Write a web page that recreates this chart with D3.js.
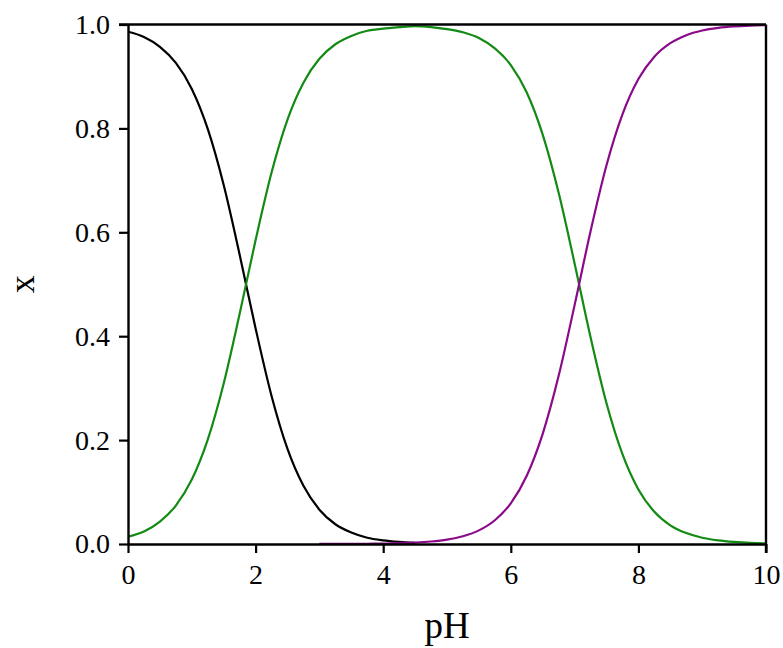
<!DOCTYPE html>
<html>
<head>
<meta charset="utf-8">
<script src="https://cdn.jsdelivr.net/npm/d3@7"></script>
<style>
  html, body { margin: 0; padding: 0; background: #ffffff; }
  svg { display: block; }
</style>
</head>
<body>
<svg id="chart" width="783" height="648"></svg>
<script>
// Species fractions vs pH for a diprotic acid H2A / HA- / A2-
const phH2A = [0, 0.25, 0.5, 0.75, 1, 1.25, 1.5, 1.75, 2, 2.25, 2.5, 2.75, 3, 3.25, 3.5, 3.75, 4, 4.25, 4.5];
const xH2A  = [0.986, 0.976, 0.957, 0.926, 0.876, 0.799, 0.691, 0.557, 0.415, 0.285, 0.183, 0.112, 0.066, 0.038, 0.022, 0.012, 0.007, 0.004, 0.002];

const phHA = [0, 0.25, 0.5, 0.75, 1, 1.25, 1.5, 1.75, 2, 2.25, 2.5, 2.75, 3, 3.25, 3.5, 3.75, 4, 4.25, 4.5, 4.75,
              5, 5.25, 5.5, 5.75, 6, 6.25, 6.5, 6.75, 7, 7.25, 7.5, 7.75, 8, 8.25, 8.5, 8.75, 9, 9.25, 9.5, 9.75, 10];
const xHA  = [0.014, 0.024, 0.043, 0.074, 0.124, 0.201, 0.309, 0.443, 0.585, 0.715, 0.817, 0.888, 0.934, 0.962, 0.978, 0.988, 0.992, 0.995, 0.997, 0.995,
              0.991, 0.985, 0.974, 0.954, 0.922, 0.869, 0.788, 0.676, 0.540, 0.398, 0.271, 0.173, 0.105, 0.062, 0.036, 0.021, 0.012, 0.007, 0.004, 0.002, 0.001];

const phA = [3, 3.25, 3.5, 3.75, 4, 4.25, 4.5, 4.75, 5, 5.25, 5.5, 5.75, 6, 6.25, 6.5, 6.75, 7, 7.25, 7.5, 7.75,
             8, 8.25, 8.5, 8.75, 9, 9.25, 9.5, 9.75, 10];
const xA  = [0.0001, 0.0002, 0.0003, 0.0005, 0.0009, 0.0015, 0.0027, 0.0048, 0.0084, 0.0149, 0.0262, 0.0457, 0.0784, 0.1315, 0.2121, 0.3237, 0.4598, 0.602, 0.729, 0.827,
             0.895, 0.938, 0.964, 0.9795, 0.9884, 0.9934, 0.9963, 0.9979, 0.9988];

const xTicks = [0, 2, 4, 6, 8, 10];
const yTicks = [0, 0.2, 0.4, 0.6, 0.8, 1.0];

const series = [
  { ph: phH2A, x: xH2A, color: "#000000" },
  { ph: phHA,  x: xHA,  color: "#138a13" },
  { ph: phA,   x: xA,   color: "#8a0a8a" }
];

const FONT = "Liberation Serif";
const margin = { left: 128, top: 24.5, right: 17, bottom: 104 };
const W = 783, H = 648;
const svg = d3.select("#chart");

const x = d3.scaleLinear().domain([0, 10]).range([margin.left, W - margin.right]);
const y = d3.scaleLinear().domain([0, 1]).range([H - margin.bottom, margin.top]);

const line = d3.line()
  .x(d => x(d[0]))
  .y(d => y(d[1]))
  .curve(d3.curveMonotoneX);

const plot = svg.append("g");
series.forEach(s => {
  plot.append("path")
    .datum(s.ph.map((p, i) => [p, s.x[i]]))
    .attr("fill", "none")
    .attr("stroke", s.color)
    .attr("stroke-width", 2.2)
    .attr("d", line);
});

// Frame: top and right edges
svg.append("line")
  .attr("x1", x(0) - 9).attr("x2", x(10)).attr("y1", y(1)).attr("y2", y(1))
  .attr("stroke", "#000").attr("stroke-width", 2.4);
svg.append("line")
  .attr("x1", x(10)).attr("x2", x(10)).attr("y1", y(0) + 9).attr("y2", y(1))
  .attr("stroke", "#000").attr("stroke-width", 2.4);

const xAxis = svg.append("g")
  .attr("transform", `translate(0,${y(0)})`)
  .call(d3.axisBottom(x).tickValues(xTicks).tickFormat(d3.format("d")).tickSize(9).tickPadding(11).tickSizeOuter(0));
const yAxis = svg.append("g")
  .attr("transform", `translate(${x(0)},0)`)
  .call(d3.axisLeft(y).tickValues(yTicks).tickFormat(d3.format(".1f")).tickSize(9).tickPadding(9).tickSizeOuter(0));

[xAxis, yAxis].forEach(g => {
  g.attr("font-family", FONT).attr("font-size", 28);
  g.select(".domain").attr("stroke", "#000").attr("stroke-width", 2.4);
  g.selectAll(".tick line").attr("stroke", "#000").attr("stroke-width", 2.2);
  g.selectAll(".tick text").attr("fill", "#000");
});

svg.append("text")
  .attr("x", (x(0) + x(10)) / 2)
  .attr("y", 638)
  .attr("text-anchor", "middle")
  .attr("font-family", FONT)
  .attr("font-size", 37)
  .attr("fill", "#000")
  .text("pH");

svg.append("text")
  .attr("transform", `translate(34,${(y(0) + y(1)) / 2}) rotate(-90)`)
  .attr("text-anchor", "middle")
  .attr("font-family", FONT)
  .attr("font-size", 36)
  .attr("fill", "#000")
  .text("x");
</script>
</body>
</html>
